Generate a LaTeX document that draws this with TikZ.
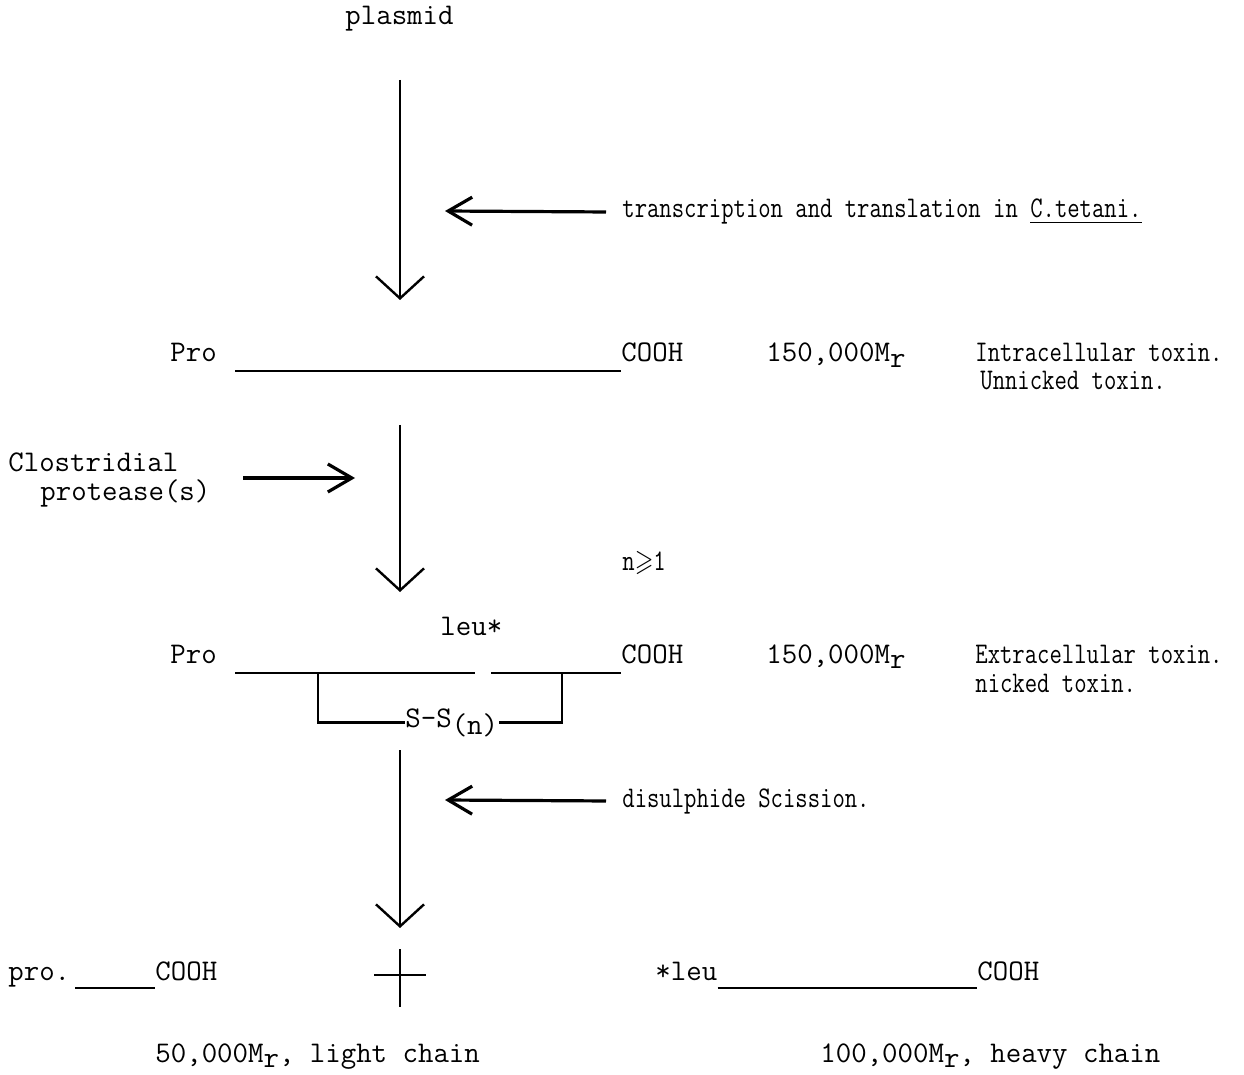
\documentclass[tikz,border=0pt]{standalone}
\usepackage{amssymb}
\usepackage{graphicx}
\usetikzlibrary{arrows.meta}
\newcommand{\nar}[1]{\scalebox{0.8}[1]{#1}}
\newcommand{\mr}{M\raisebox{-0.45ex}{r}}
\tikzset{
  lbl/.style={font=\ttfamily\fontsize{15}{18}\selectfont, inner sep=0pt, anchor=base west},
  stem/.style={line width=1pt, -{Straight Barb[length=11pt,width=24pt,line width=1.2pt]}},
  side/.style={line width=1.6pt, -{Straight Barb[length=12pt,width=14pt]}},
  chain/.style={line width=0.9pt},
  bond/.style={line width=1.4pt},
}
\begin{document}
\begin{tikzpicture}[x=0.5pt,y=-0.5pt]
	\useasboundingbox (0,0) rectangle (1244,1075);
	\node[lbl] (plasmid) at (345,25) {plasmid};
	\coordinate (s1a) at (400,80);
	\coordinate (s1b) at (400,300);
	\draw[stem] (s1a) -- (s1b);
	\node[lbl] (transl) at (622,218) {\nar{transcription and translation in \underline{C.tetani.}}};
	\coordinate (t1) at (445,211);
	\draw[side] ([xshift=-8pt]transl.west) -- (t1);
	% unnicked toxin
	\node[lbl] (pro1) at (170,362) {Pro};
	\node[lbl] (cooh1) at (621,362) {COOH};
	\draw[chain] (235,371) coordinate (c1a) -- (c1a -| cooh1.west);
	\node[lbl] (mr1) at (766,362) {150,000\mr};
	\node[lbl] (intra) at (975,362) {\nar{Intracellular toxin.}};
	\node[lbl] (unnick) at (980,390) {\nar{Unnicked toxin.}};
	\coordinate (s2a) at (400,425);
	\coordinate (s2b) at (400,592);
	\draw[stem] (s2a) -- (s2b);
	\node[lbl] (clos) at (8,472) {Clostridial};
	\node[lbl] (prot) at (40,501) {protease(s)};
	\coordinate (p1) at (355,478);
	\draw[side] (243,478) -- (p1);
	\node[lbl] (nge) at (622,570) {\nar{n$\geqslant$1}};
	% nicked toxin
	\node[lbl] (leu) at (440,635) {leu*};
	\node[lbl] (pro2) at (170,663) {Pro};
	\node[lbl] (cooh2) at (621,663) {COOH};
	\draw[chain] (235,673) coordinate (c2a) -- (475,673) coordinate (c2b);
	\draw[chain] (491,673) coordinate (c2c) -- (c2c -| cooh2.west);
	\node[lbl] (ss) at (405,727) {S-S\raisebox{-0.6ex}{(n)}};
	\draw[bond] (318,673) |- (ss.west);
	\draw[bond] (562,673) |- (ss.east |- ss.west);
	\node[lbl] (mr2) at (766,663) {150,000\mr};
	\node[lbl] (extra) at (975,663) {\nar{Extracellular toxin.}};
	\node[lbl] (nick) at (975,692) {\nar{nicked toxin.}};
	\coordinate (s3a) at (400,750);
	\coordinate (s3b) at (400,928);
	\draw[stem] (s3a) -- (s3b);
	\node[lbl] (disul) at (622,807) {\nar{disulphide Scission.}};
	\coordinate (t2) at (445,800);
	\draw[side] ([xshift=-8pt]disul.west) -- (t2);
	% light and heavy chains
	\node[lbl] (prol) at (8,980) {pro.};
	\node[lbl] (coohl) at (155,980) {COOH};
	\draw[chain] (75,988) coordinate (c3a) -- (c3a -| coohl.west);
	\coordinate (plus) at (400,975);
	\draw[bond] ([xshift=-13pt]plus) -- ([xshift=13pt]plus);
	\draw[bond] ([yshift=13pt]plus) -- ([yshift=-16pt]plus);
	\node[lbl] (leuh) at (655,980) {*leu};
	\node[lbl] (coohh) at (977,980) {COOH};
	\draw[chain] (leuh.base east) ++(0,8) coordinate (c4a) -- (c4a -| coohh.west);
	\node[lbl] (mrl) at (155,1062) {50,000\mr, light chain};
	\node[lbl] (mrh) at (820,1062) {100,000\mr, heavy chain};
\end{tikzpicture}
\end{document}
